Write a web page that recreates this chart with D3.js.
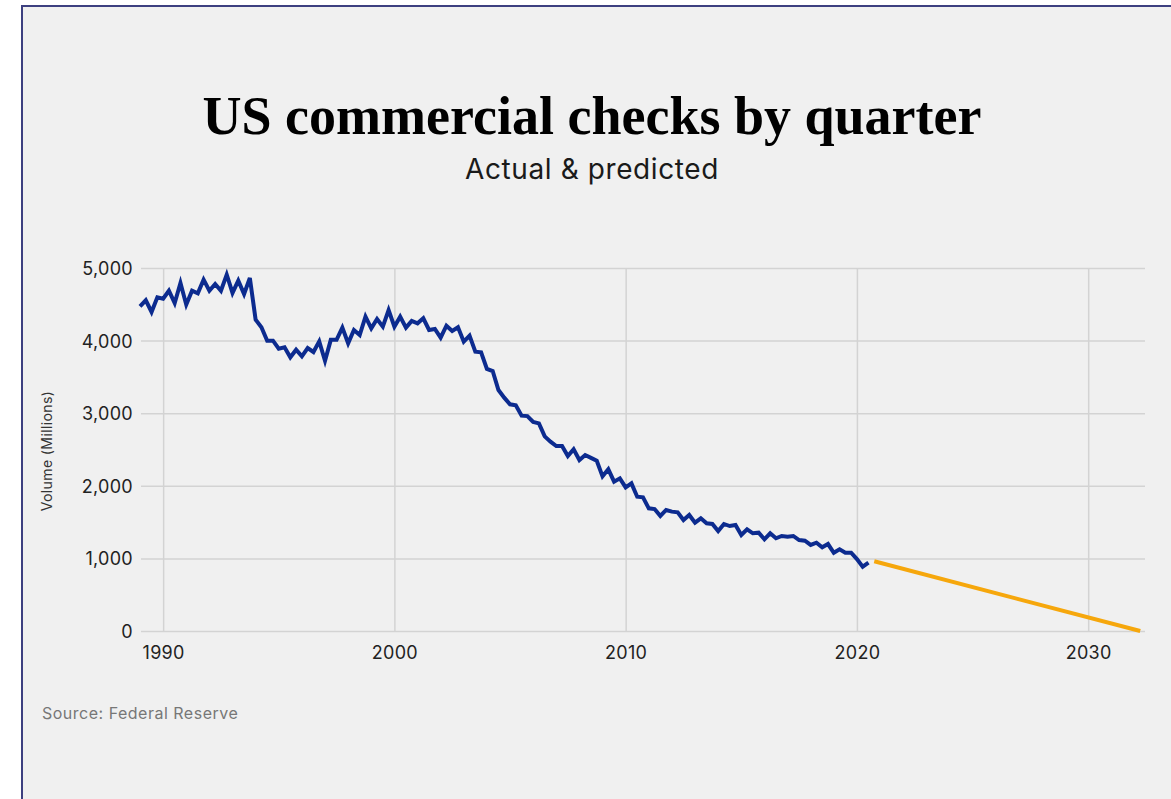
<!DOCTYPE html>
<html>
<head>
<meta charset="utf-8">
<script src="https://cdn.jsdelivr.net/npm/d3@7"></script>
<style>
  body { margin: 0; background: #fff; }
  svg { display: block; }
  .axis text { font-family: Inter, "Noto Sans", sans-serif; font-size: 18px; fill: #222; letter-spacing: 0.3px; }
  .axis line { stroke: #d3d3d3; stroke-width: 1.5; }
  .axis .domain { display: none; }
</style>
</head>
<body>
<svg class="chart"></svg>
<script>
// quarterly volume (millions), first value is 1989 Q1
var actualStart = 1989;
var actual = [
  4472, 4555, 4394, 4596, 4577, 4687, 4518, 4793, 4495, 4687,
  4651, 4839, 4687, 4780, 4687, 4908, 4656, 4825, 4642, 4862,
  4288, 4183, 3999, 3999, 3889, 3908, 3770, 3875, 3784, 3898,
  3843, 3990, 3723, 4010, 4010, 4178, 3963, 4146, 4077, 4330,
  4169, 4298, 4192, 4421, 4192, 4330, 4178, 4270, 4238, 4307,
  4146, 4160, 4040, 4205, 4132, 4183, 3985, 4068, 3847, 3839,
  3610, 3581, 3320, 3214, 3123, 3110, 2966, 2960, 2880, 2860,
  2680, 2607, 2548, 2548, 2410, 2503, 2355, 2424, 2385, 2345,
  2130, 2227, 2057, 2103, 1979, 2034, 1850, 1842, 1690, 1680,
  1584, 1667, 1644, 1635, 1529, 1598, 1492, 1552, 1483, 1474,
  1377, 1474, 1446, 1460, 1322, 1401, 1346, 1354, 1263, 1346,
  1277, 1309, 1299, 1309, 1253, 1244, 1185, 1216, 1153, 1198,
  1078, 1125, 1078, 1078, 990, 886, 941
];

// predicted trend
var predYears = [2020.75, 2032.25];
var predValues = [960, 0];

// tick labels
var xTicks = [1990, 2000, 2010, 2020, 2030];
var yTicks = [0, 1000, 2000, 3000, 4000, 5000];

var width = 1171, height = 799;

var svg = d3.select(".chart")
  .attr("width", width)
  .attr("height", height);

// panel with border
svg.append("rect")
  .attr("x", 22)
  .attr("y", 6)
  .attr("width", 1200)
  .attr("height", 900)
  .attr("fill", "#f0f0f0")
  .attr("stroke", "#3d4080")
  .attr("stroke-width", 2);

// scales
var x = d3.scaleLinear()
  .domain([1989, 2032.5])
  .range([140, 1146]);

var y = d3.scaleLinear()
  .domain([0, 5000])
  .range([631, 268]);

// y-axis with gridlines
svg.append("g")
  .attr("class", "axis y")
  .attr("transform", "translate(141,0)")
  .call(d3.axisLeft(y)
    .tickValues(yTicks)
    .tickSize(-1004)
    .tickPadding(8)
    .tickFormat(d3.format(",")))
  .selectAll("text")
  .attr("dy", "0.36em");

// x-axis with gridlines
svg.append("g")
  .attr("class", "axis x")
  .attr("transform", "translate(0,631)")
  .call(d3.axisBottom(x)
    .tickValues(xTicks)
    .tickSize(-363)
    .tickPadding(15)
    .tickFormat(d3.format("d")));

// y-axis label
svg.append("text")
  .attr("transform", "translate(52,451) rotate(-90)")
  .style("text-anchor", "middle")
  .style("font-family", "Inter, sans-serif")
  .style("font-size", "14px")
  .style("letter-spacing", "0.4px")
  .style("fill", "#333")
  .text("Volume (Millions)");

var line = d3.line()
  .x(function(d) { return x(d[0]); })
  .y(function(d) { return y(d[1]); });

var actualData = actual.map(function(v, i) { return [actualStart + i / 4, v]; });
var predData = predYears.map(function(t, i) { return [t, predValues[i]]; });

svg.append("path")
  .datum(actualData)
  .attr("d", line)
  .attr("fill", "none")
  .attr("stroke", "#0c2b8f")
  .attr("stroke-width", 4)
  .attr("stroke-linejoin", "miter");

svg.append("path")
  .datum(predData)
  .attr("d", line)
  .attr("fill", "none")
  .attr("stroke", "#f6a70c")
  .attr("stroke-width", 4);

// title & subtitle
svg.append("text")
  .attr("x", 592)
  .attr("y", 134)
  .style("text-anchor", "middle")
  .style("font-family", "'Liberation Serif', serif")
  .style("font-weight", "bold")
  .style("font-size", "54px")
  .style("fill", "#000")
  .text("US commercial checks by quarter");

svg.append("text")
  .attr("x", 592)
  .attr("y", 179)
  .style("text-anchor", "middle")
  .style("font-family", "Inter, sans-serif")
  .style("font-size", "28px")
  .style("letter-spacing", "0.6px")
  .style("fill", "#1a1a1a")
  .text("Actual & predicted");

// source
svg.append("text")
  .attr("x", 42)
  .attr("y", 719)
  .style("font-family", "Inter, sans-serif")
  .style("font-size", "16px")
  .style("letter-spacing", "0.5px")
  .style("fill", "#777")
  .text("Source: Federal Reserve");
</script>
</body>
</html>
